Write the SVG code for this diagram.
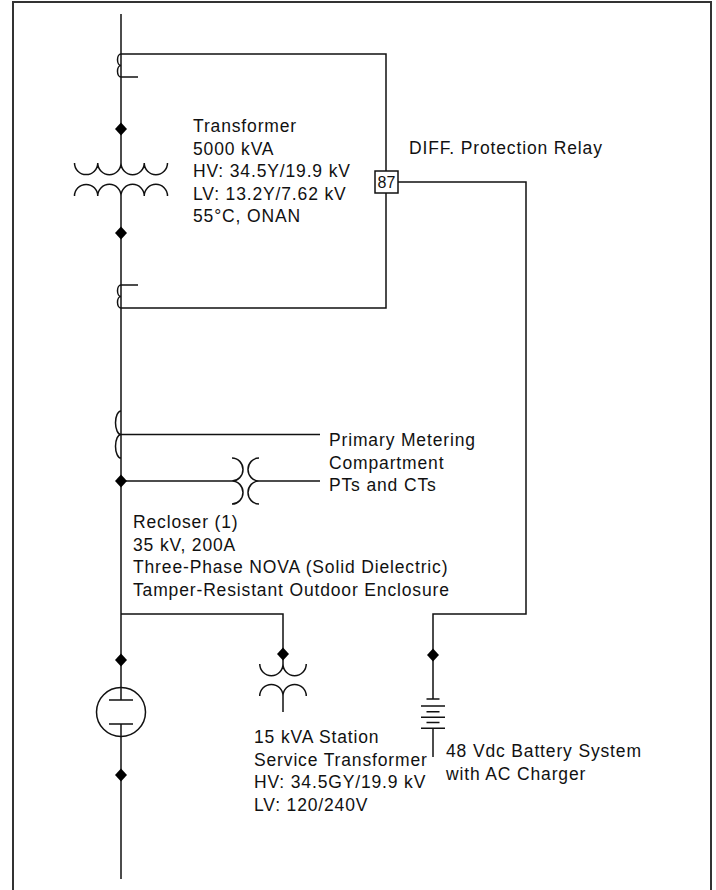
<svg xmlns="http://www.w3.org/2000/svg" width="716" height="890" viewBox="0 0 716 890">
<style>
.w{fill:none;stroke:#111;stroke-width:1.5}
.d{fill:#000;stroke:none}
.t{font-family:"Liberation Sans",Arial,sans-serif;font-size:17.5px;letter-spacing:0.85px;fill:#111}
.n{font-family:"Liberation Sans",Arial,sans-serif;font-size:16px;fill:#111;text-anchor:middle}
</style>
<defs>
<path id="dia" d="M0,-6.5 L6,0 L0,6.5 L-6,0 Z"/>
</defs>
<rect x="0" y="0" width="716" height="890" fill="#fff"/>
<g id="frame"><path d="M13,890 V2 H711 V890" fill="none" stroke="#333" stroke-width="2"/></g>
<g id="connectors">
<path class="w" d="M121,14 V163"/>
<path class="w" d="M121,196 V700"/>
<path class="w" d="M121,724 V879"/>
<path class="w" d="M121,54 H386 V308 H121"/>
<path class="w" d="M121,77 H138"/>
<path class="w" d="M121,285 H138"/>
<path class="w" d="M121,434.5 H320"/>
<path class="w" d="M121,481 H232"/>
<path class="w" d="M259,481 H320"/>
<path class="w" d="M398,182 H526 V614 H433 V699"/>
<path class="w" d="M121,614 H283 V664"/>
<path class="w" d="M283,696 V712"/>
<path class="w" d="M433,728 V757"/>
</g>
<g id="ct-top"><path class="w" d="M121,54 A3.5,5.75 0 0 0 121,65.5 A3.5,5.75 0 0 0 121,77"/></g>
<g id="ct-bottom"><path class="w" d="M121,285 A3.5,5.75 0 0 0 121,296.5 A3.5,5.75 0 0 0 121,308"/></g>
<g id="transformer">
<path class="w" d="M74.5,163 a11.625,11.625 0 0 0 23.25,0 a11.625,11.625 0 0 0 23.25,0 a11.625,11.625 0 0 0 23.25,0 a11.625,11.625 0 0 0 23.25,0"/>
<path class="w" d="M74.5,196 a11.625,11.625 0 0 1 23.25,0 a11.625,11.625 0 0 1 23.25,0 a11.625,11.625 0 0 1 23.25,0 a11.625,11.625 0 0 1 23.25,0"/>
<text class="t" x="193" y="132.3">Transformer</text>
<text class="t" x="193" y="154.8">5000 kVA</text>
<text class="t" x="193" y="177.3">HV: 34.5Y/19.9 kV</text>
<text class="t" x="193" y="199.8">LV: 13.2Y/7.62 kV</text>
<text class="t" x="193" y="222.3">55°C, ONAN</text>
</g>
<g id="relay">
<rect x="375" y="171" width="23" height="22" fill="#fff" stroke="#111" stroke-width="1.5"/>
<text class="n" x="386.5" y="188">87</text>
<text class="t" x="409" y="154">DIFF. Protection Relay</text>
</g>
<g id="metering">
<path class="w" d="M121,411 A5.5,11.75 0 0 0 121,434.5 A5.5,11.75 0 0 0 121,458"/>
<path class="w" d="M232,458 A11,11.5 0 0 1 232,481 A11,11.5 0 0 1 232,504"/>
<path class="w" d="M259,458 A11,11.5 0 0 0 259,481 A11,11.5 0 0 0 259,504"/>
<text class="t" x="329" y="446">Primary Metering</text>
<text class="t" x="329" y="468.5">Compartment</text>
<text class="t" x="329" y="491">PTs and CTs</text>
</g>
<g id="recloser">
<text class="t" x="133" y="528">Recloser (1)</text>
<text class="t" x="133" y="550.5">35 kV, 200A</text>
<text class="t" x="133" y="573">Three-Phase NOVA (Solid Dielectric)</text>
<text class="t" x="133" y="595.5">Tamper-Resistant Outdoor Enclosure</text>
</g>
<g id="breaker">
<circle class="w" cx="121" cy="712" r="24.5"/>
<path class="w" d="M109,700 H133 M109,724 H133"/>
</g>
<g id="station-transformer">
<path class="w" d="M259.75,664 a11.625,11.625 0 0 0 23.25,0 a11.625,11.625 0 0 0 23.25,0"/>
<path class="w" d="M259.75,696 a11.625,11.625 0 0 1 23.25,0 a11.625,11.625 0 0 1 23.25,0"/>
<text class="t" x="254" y="743">15 kVA Station</text>
<text class="t" x="254" y="765.5">Service Transformer</text>
<text class="t" x="254" y="788">HV: 34.5GY/19.9 kV</text>
<text class="t" x="254" y="810.5">LV: 120/240V</text>
</g>
<g id="battery">
<path class="w" d="M426.5,699 H439.5 M421,706 H445 M426.5,711.7 H439.5 M421,717.3 H445 M426.5,722.5 H439.5 M421,728.3 H445"/>
<text class="t" x="446" y="757">48 Vdc Battery System</text>
<text class="t" x="446" y="779.5">with AC Charger</text>
</g>
<g id="junctions">
<use href="#dia" class="d" x="121" y="129"/>
<use href="#dia" class="d" x="121" y="233"/>
<use href="#dia" class="d" x="121" y="481"/>
<use href="#dia" class="d" x="121" y="660"/>
<use href="#dia" class="d" x="121" y="775"/>
<use href="#dia" class="d" x="283" y="654"/>
<use href="#dia" class="d" x="433" y="655"/>
</g>
</svg>
